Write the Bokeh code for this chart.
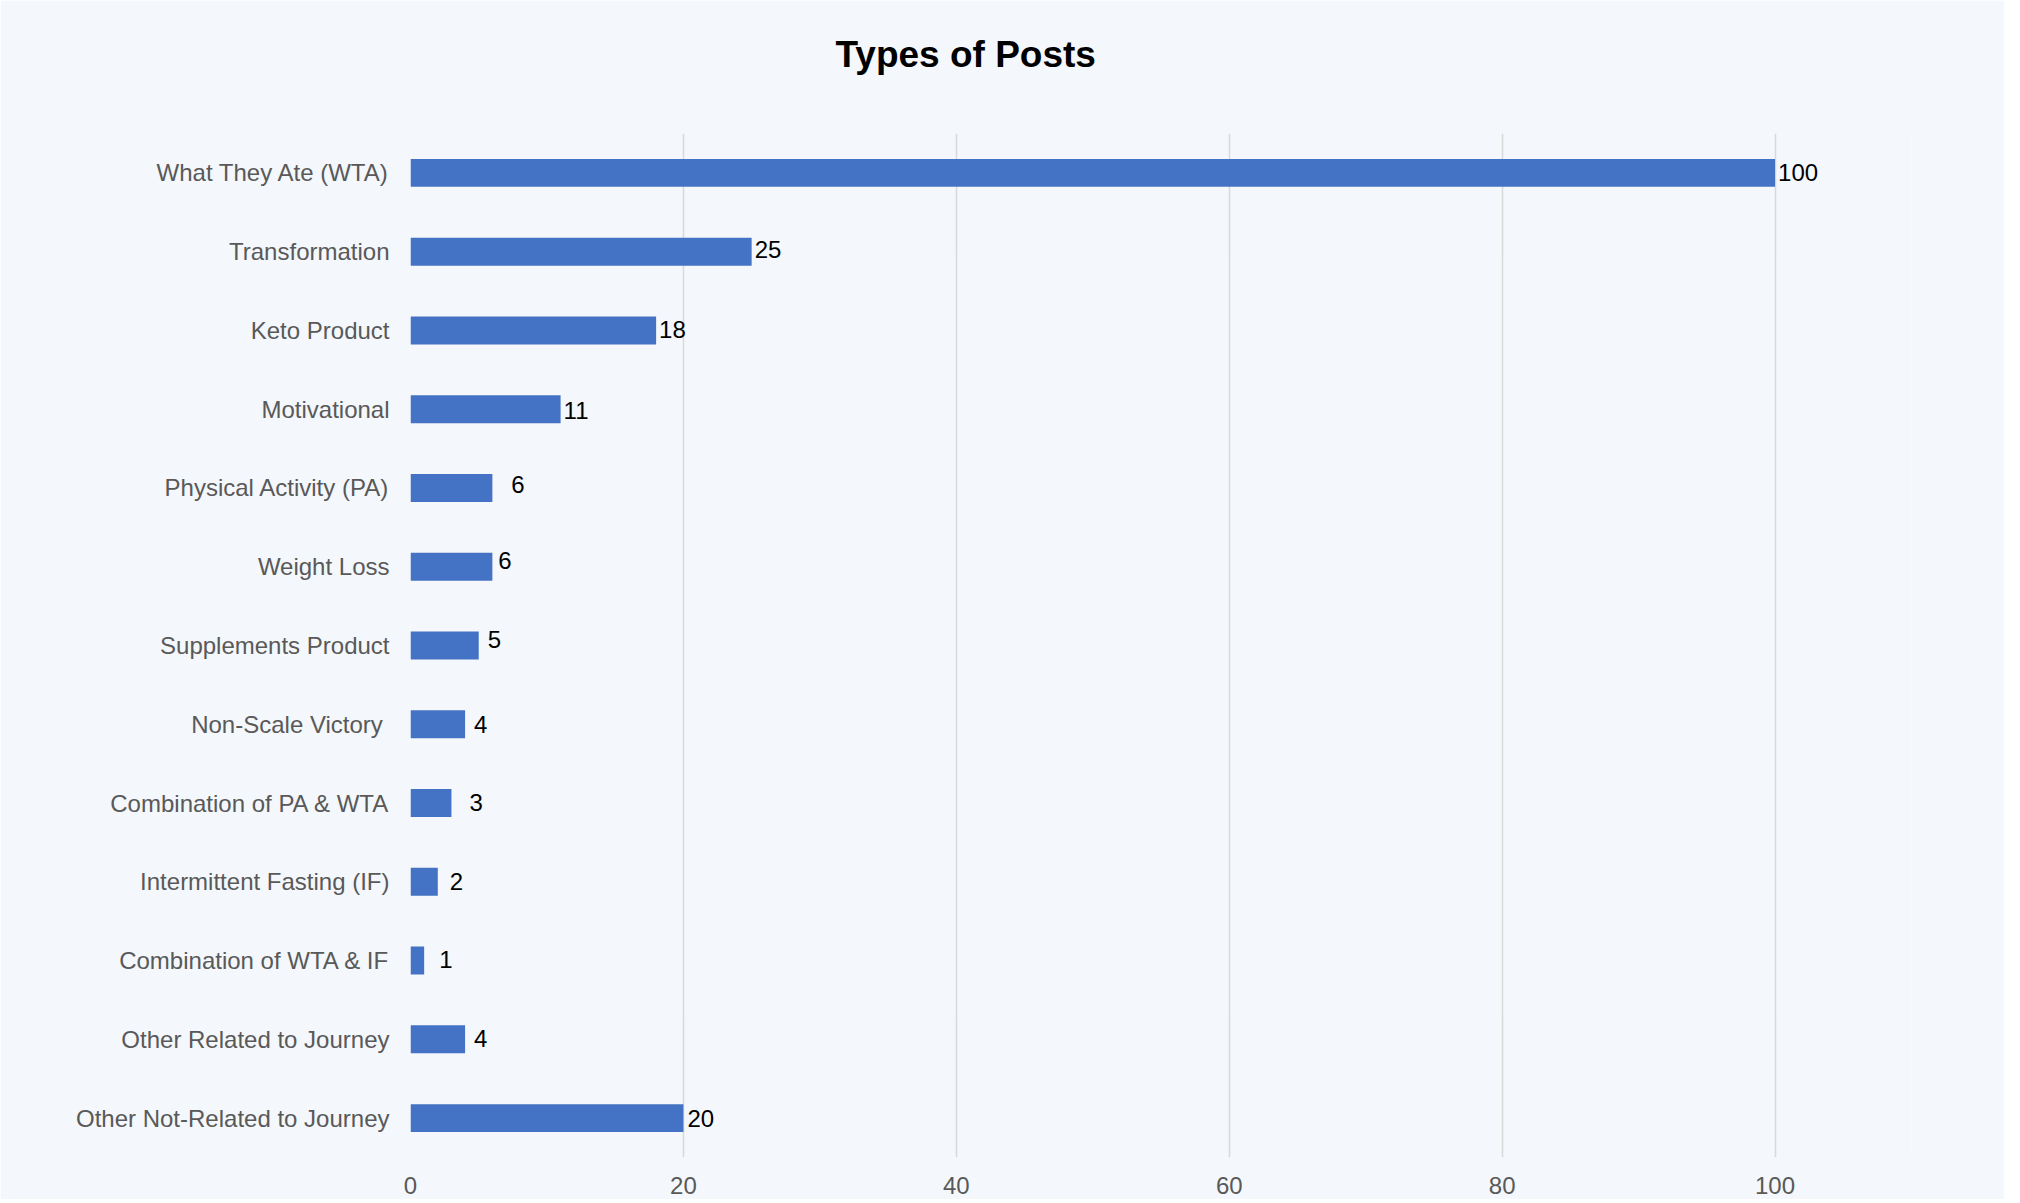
from bokeh.plotting import figure
from bokeh.models import FactorRange, Range1d, FixedTicker, ColumnDataSource, Title
from bokeh.core.properties import value
from bokeh.embed import file_html
from bokeh.resources import INLINE

categories = [
    "What They Ate (WTA)",
    "Transformation",
    "Keto Product",
    "Motivational",
    "Physical Activity (PA)",
    "Weight Loss",
    "Supplements Product",
    "Non-Scale Victory ",
    "Combination of PA & WTA",
    "Intermittent Fasting (IF)",
    "Combination of WTA & IF",
    "Other Related to Journey",
    "Other Not-Related to Journey",
]
counts = [100, 25, 18, 11, 6, 6, 5, 4, 3, 2, 1, 4, 20]
x_ticks = [0, 20, 40, 60, 80, 100]
title_text = "Types of Posts"

# label placement quirks (pixels), styling only
label_dx = [3, 3, 3, 3, 19, 6, 9, 9, 18, 12, 15, 9, 4]
label_dy = [0, -2, -1, 1, -3, -6, -6, 0, -1, 0, -1, -1, 0]

FONT = "Liberation Sans"
BG = "#F4F7FB"

src = ColumnDataSource(dict(cat=categories, val=counts,
                            lab=[str(v) for v in counts],
                            dx=label_dx, dy=label_dy))

p = figure(width=2004, height=1199, output_backend="svg", toolbar_location=None,
           y_range=FactorRange(factors=list(reversed(categories)), range_padding=0),
           x_range=Range1d(0, 110),
           min_border_left=410, min_border_right=93,
           min_border_top=133, min_border_bottom=42)

p.background_fill_color = BG
p.border_fill_color = BG
p.outline_line_color = None

# spacer between frame and title, then the title itself
p.add_layout(Title(text=" ", text_font_size="1px", standoff=51), "above")
p.add_layout(Title(text=title_text, align="left", offset=425, standoff=10,
                   text_font=FONT, text_font_size="37px", text_font_style="bold",
                   text_color="#000000"), "above")

p.hbar(y="cat", right="val", left=0, height=0.355, source=src,
       fill_color="#4472C4", line_color=None)

p.text(x="val", y="cat", text="lab", source=src, x_offset="dx", y_offset="dy",
       text_font=value(FONT), text_font_size="24px", text_color="#000000",
       text_baseline="middle", text_align="left")

p.xaxis.ticker = FixedTicker(ticks=x_ticks)
p.xaxis.axis_line_color = None
p.xaxis.major_tick_line_color = None
p.xaxis.minor_tick_line_color = None
p.xaxis.major_tick_out = 0
p.xaxis.major_label_standoff = 19
p.xaxis.major_label_text_font = FONT
p.xaxis.major_label_text_font_size = "24px"
p.xaxis.major_label_text_color = "#595959"

p.yaxis.axis_line_color = None
p.yaxis.major_tick_line_color = None
p.yaxis.minor_tick_line_color = None
p.yaxis.major_tick_out = 0
p.yaxis.major_label_standoff = 21
p.yaxis.major_label_text_font = FONT
p.yaxis.major_label_text_font_size = "24px"
p.yaxis.major_label_text_color = "#595959"

p.xgrid.ticker = FixedTicker(ticks=x_ticks)
p.xgrid.grid_line_color = "#D9D9D9"
p.xgrid.grid_line_width = 1.5
p.ygrid.grid_line_color = None

open("out.html", "w").write(file_html(p, INLINE))
